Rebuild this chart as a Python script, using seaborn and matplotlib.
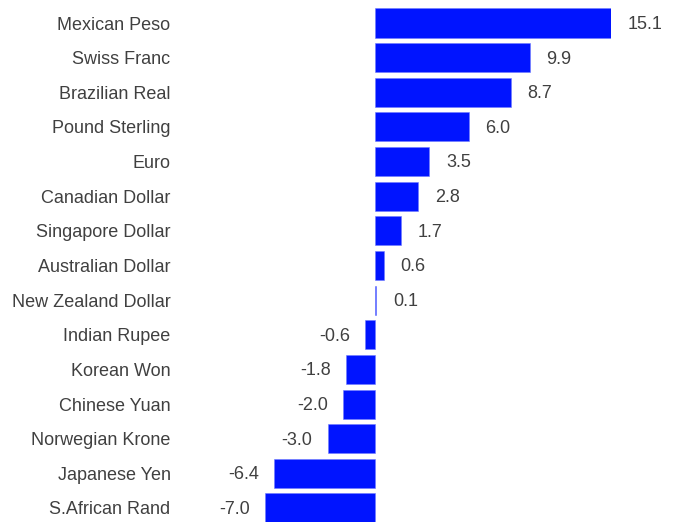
import matplotlib
matplotlib.use("Agg")
import matplotlib.pyplot as plt
import seaborn as sns

currencies = ["Mexican Peso", "Swiss Franc", "Brazilian Real", "Pound Sterling", "Euro",
              "Canadian Dollar", "Singapore Dollar", "Australian Dollar", "New Zealand Dollar",
              "Indian Rupee", "Korean Won", "Chinese Yuan", "Norwegian Krone",
              "Japanese Yen", "S.African Rand"]
returns = [15.1, 9.9, 8.7, 6.0, 3.5, 2.8, 1.7, 0.6, 0.1, -0.6, -1.8, -2.0, -3.0, -6.4, -7.0]

sns.set_style("white")
plt.rcParams["font.family"] = ["Liberation Sans", "DejaVu Sans"]

fig = plt.figure(figsize=(6.77, 5.22), dpi=100)
ax = fig.add_axes([265 / 677, -3.3 / 522, 346 / 677, 519.6 / 522])

sns.barplot(x=returns, y=currencies, orient="h", color="#0014FF", saturation=1,
            width=0.84, ax=ax, edgecolor="#6f7bff", linewidth=0.4)

ax.set_xlim(-7.0, 15.1)
ax.set_ylim(14.5, -0.5)
sns.despine(ax=ax, left=True, bottom=True)
ax.set_xticks([])
ax.tick_params(axis="y", length=0, pad=68, labelsize=13, labelcolor="#404040")
ax.set_xlabel("")
ax.set_ylabel("")

for i, v in enumerate(returns):
    off = 12 if v >= 0 else -11
    ha = "left" if v >= 0 else "right"
    ax.annotate(f"{v:.1f}", xy=(v, i), xytext=(off, -1), textcoords="offset points",
                ha=ha, va="center", fontsize=13, color="#404040", annotation_clip=False)

fig.savefig("out.png", dpi=100)
